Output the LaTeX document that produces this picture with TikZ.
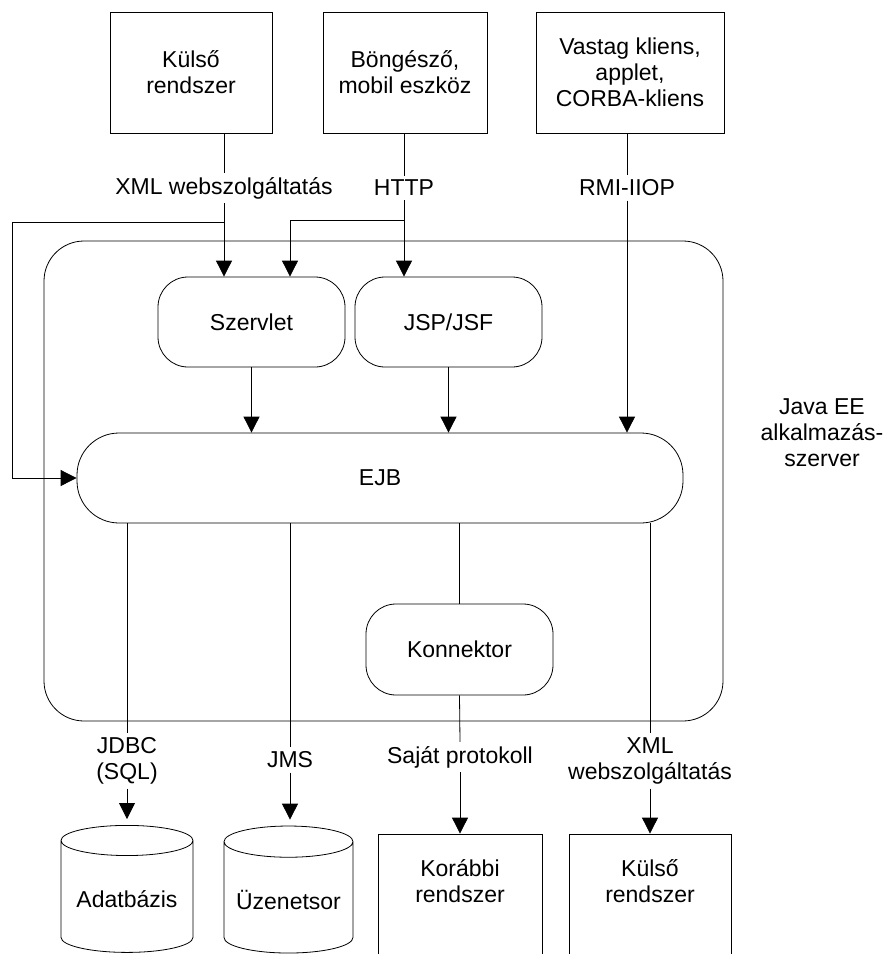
\documentclass[tikz,border=0pt]{standalone}
\usepackage{fontspec}
\setmainfont{Liberation Sans}
\usepackage{tikz}
\usetikzlibrary{arrows.meta, positioning, shapes.geometric, calc}

\begin{document}
\begin{tikzpicture}[
  x=1pt, y=-1pt,
  font=\fontsize{23}{26}\selectfont,
  line width=0.8pt,
  box/.style={rectangle, draw, align=center, inner sep=2pt},
  extbox/.style={box, minimum height=121pt},
  lowbox/.style={box, minimum width=164pt, minimum height=126pt},
  comp/.style={box, rounded corners=30pt, minimum width=187pt, minimum height=90pt},
  dbcyl/.style={cylinder, shape border rotate=90, draw, aspect=0.28,
                minimum width=132pt, minimum height=127pt, align=center},
  lbl/.style={align=center, inner sep=4pt},
  arr/.style={-{Triangle[length=16pt, width=16pt]}},
  ]
  \useasboundingbox (0,0) rectangle (894,954);

  %% Application server frame and its caption
  \node[box, rounded corners=40pt, minimum width=679pt, minimum height=480pt]
        (srv) at (383.5, 481) {};
  \node[lbl] (srvlbl) at (822, 433) {Java EE\\alkalmazás-\\szerver};

  %% Clients on top
  \node[extbox, minimum width=162pt] (ext1)    at (191, 72.5) {Külső\\rendszer};
  \node[extbox, minimum width=164pt] (browser) at (405, 72.5) {Böngésző,\\mobil eszköz};
  \node[extbox, minimum width=188pt] (thick)   at (630, 72.5) {Vastag kliens,\\applet,\\CORBA-kliens};

  \node[lbl] (lxml)  at (224, 188) {XML webszolgáltatás};
  \node[lbl] (lhttp) at (404, 188) {HTTP};
  \node[lbl] (lrmi)  at (627, 188) {RMI-IIOP};

  %% Components inside the server
  \node[comp] (szerv) at (251.5, 322) {Szervlet};
  \node[comp] (jsp)   at (448.5, 322) {JSP/JSF};
  \node[box, rounded corners=42pt, minimum width=606pt, minimum height=90pt]
        (ejb) at (380, 478) {EJB};
  \node[comp, minimum height=91pt] (konn) at (459.5, 649.5) {Konnektor};

  %% Back-end resources
  \node[dbcyl] (db) at (127, 899) {Adatbázis};
  \node[dbcyl, minimum width=129pt] (mq) at (288.5, 900) {Üzenetsor};
  \node[lowbox] (legacy) at (460, 897) {Korábbi\\rendszer\\[6pt]};
  \node[lowbox, minimum width=162pt] (ext2) at (650, 897) {Külső\\rendszer\\[6pt]};

  \node[lbl] (ljdbc) at (127, 761) {JDBC\\(SQL)};
  \node[lbl] (ljms)  at (290, 760) {JMS};
  \node[lbl] (lown)  at (460, 757) {Saját protokoll};
  \node[lbl] (lxml2) at (650, 761) {XML\\webszolgáltatás};

  \coordinate (xmlsplit)  at (224, 222);
  \coordinate (httpsplit) at (404, 220);

  %% Incoming connections
  \draw (ext1.south -| lxml) -- (lxml.north);
  \draw[arr] (lxml.south) -- (lxml.south |- szerv.north);
  \draw[arr] (xmlsplit) -- (12, 222) |- (ejb.west);
  \draw (browser.south -| lhttp) -- (lhttp.north);
  \draw[arr] (lhttp.south) -- (lhttp.south |- jsp.north);
  \draw[arr] (httpsplit) -| ($(szerv.north)+(38.5,0)$);
  \draw (thick.south -| lrmi) -- (lrmi.north);
  \draw[arr] (lrmi.south) -- (lrmi.south |- ejb.north);

  % web tier -> EJB
  \draw[arr] (szerv.south) -- (szerv.south |- ejb.north);
  \draw[arr] (jsp.south)   -- (jsp.south |- ejb.north);

  %% Outgoing connections
  \draw (ljdbc.north |- ejb.south) -- (ljdbc.north);
  \draw[arr, shorten >=6pt] (ljdbc.south) -- (db.north);
  \draw (ljms.north |- ejb.south) -- (ljms.north);
  \draw[arr, shorten >=6pt] (ljms.south) -- (ljms.south |- mq.north);
  \draw (konn.north |- ejb.south) -- (konn.north);
  \draw (konn.south) -- (lown.north);
  \draw[arr] (lown.south) -- (legacy.north);
  \draw (lxml2.north |- ejb.south) -- (lxml2.north);
  \draw[arr] (lxml2.south) -- (ext2.north);
\end{tikzpicture}
\end{document}
